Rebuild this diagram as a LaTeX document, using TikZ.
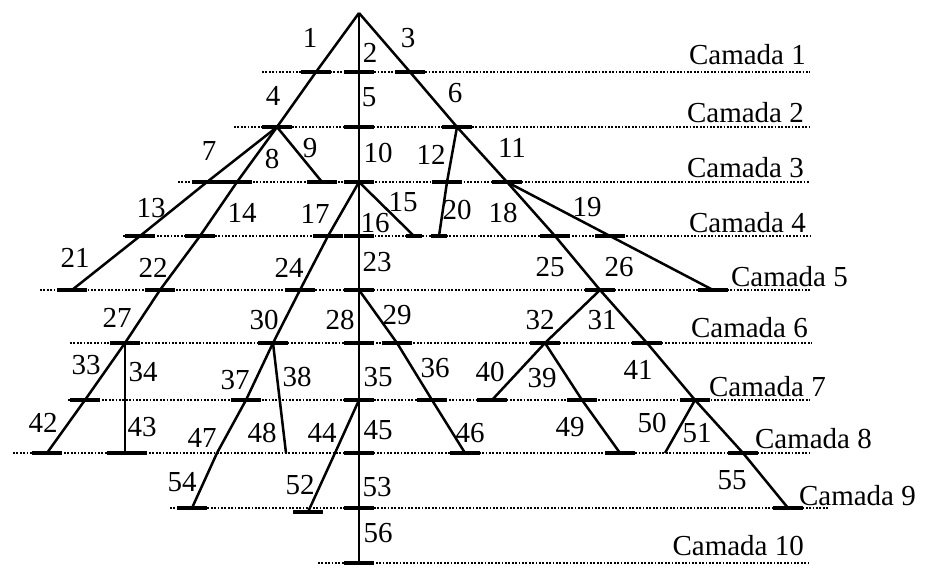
\documentclass[tikz,border=0pt]{standalone}
\usepackage{fontspec}
\setmainfont{Liberation Serif}
\usetikzlibrary{calc}
\colorlet{colLinha}{black}
\tikzset{
  ramo/.style={draw=colLinha, line width=2.5pt, line join=round},
  marca/.style={draw=colLinha, line width=3.2pt},
  camadaLinha/.style={draw=colLinha, line width=2.4pt, dash pattern=on 1.8pt off 1.6pt},
  rotulo/.style={font=\fontsize{29}{31}\selectfont, inner sep=0pt, text=colLinha},
  rotuloCamada/.style={rotulo, anchor=east},
}

\begin{document}
\begin{tikzpicture}[x=1pt, y=-1pt]
    \useasboundingbox (0,0) rectangle (939,568);
    % camadas
    \foreach \n/\xa/\xb/\y in {1/262/810/72, 2/234/810/127, 3/178/810/182, 4/123/810/236,
        5/40/810/290, 6/70/812/343, 7/68/810/400, 8/13/810/453, 9/170/828/508, 10/318/810/563}
      \draw[camadaLinha] (\xa,\y) -- (\xb,\y);
    \foreach \n/\x/\y in {1/806/55, 2/804/113, 3/804/168, 4/806/223, 5/848/277,
        6/808/328, 7/826/387, 8/872/439, 9/916/496, 10/804/546}
      \node[rotuloCamada] (cam\n) at (\x,\y) {Camada \n};
    % pontos da arvore
    \coordinate (a) at (359,13);
    \foreach \n/\y in {1/72, 2/127, 3/182, 4/236, 5/290, 6/343, 7/400, 8/453, 9/508, 10/563}
      \coordinate (v\n) at (359,\y);
    \coordinate (p1) at (316,72);   \coordinate (n4) at (277,127);
    \coordinate (p3) at (410,72);   \coordinate (n6) at (457,127);
    \coordinate (n11) at (507,182);
    \coordinate (p7) at (207,182);  \coordinate (p13) at (140,236);
    \coordinate (e21) at (72,290);
    \coordinate (p8) at (237,182);  \coordinate (p14) at (200,236);
    \coordinate (p22) at (160,290); \coordinate (n27) at (125,343);
    \coordinate (p33) at (85,400);  \coordinate (e42) at (47,453);
    \coordinate (p34) at (125,400); \coordinate (e43) at (125,453);
    \coordinate (e9) at (322,182);
    \coordinate (e15) at (414,236);
    \coordinate (p17) at (328,236); \coordinate (p24) at (300,290);
    \coordinate (n30) at (273,343);
    \coordinate (p37) at (246,400); \coordinate (p47) at (217,453);
    \coordinate (e54) at (192,508);
    \coordinate (e38) at (286,453);
    \coordinate (p12) at (447,182); \coordinate (e20) at (439,236);
    \coordinate (p18) at (555,236); \coordinate (n25) at (600,290);
    \coordinate (p19) at (610,236); \coordinate (e26) at (713,290);
    \coordinate (p31) at (647,343); \coordinate (n41) at (695,400);
    \coordinate (p51) at (743,453); \coordinate (e55) at (788,508);
    \coordinate (n32) at (545,343); \coordinate (e40) at (492,400);
    \coordinate (p39) at (582,400); \coordinate (e49) at (620,453);
    \coordinate (e50) at (665,453);
    \coordinate (p29) at (397,343); \coordinate (p36) at (432,400);
    \coordinate (e46) at (465,453);
    \coordinate (p44) at (335,453); \coordinate (e52) at (308,512);
    % marcas nas camadas
    \foreach \c in {p1, v1, p3, n4, v2, n6, p7, p8, e9, v3, p12, n11,
        p13, p14, p17, v4, p18, p19, e21, p22, p24, v5, n25, e26,
        n27, n30, v6, p29, n32, p31, p33, p37, v7, p36, e40, p39, n41,
        e42, v8, e46, e49, p51, e54, e52, v9, e55, v10}
      \draw[marca] ([xshift=-15pt]\c) -- ([xshift=15pt]\c);
    \foreach \c in {e15, e20}
      \draw[marca] ([xshift=-8pt]\c) -- ([xshift=8pt]\c);
    \draw[marca] ([xshift=-18pt]e43) -- ([xshift=22pt]e43);
    % ramos
    \draw[ramo] (a) -- (v1) -- (v2) -- (v3) -- (v4) -- (v5) -- (v6) -- (v7) -- (v8) -- (v9) -- (v10);
    \draw[ramo] (a) -- (p1) -- (n4);
    \draw[ramo] (a) -- (p3) -- (n6) -- (n11);
    \draw[ramo] (n4) -- (p7) -- (p13) -- (e21);
    \draw[ramo] (n4) -- (p8) -- (p14) -- (p22) -- (n27);
    \draw[ramo] (n27) -- (p33) -- (e42);
    \draw[ramo] (n27) -- (p34) -- (e43);
    \draw[ramo] (n4) -- (e9);
    \draw[ramo] (v3) -- (e15);
    \draw[ramo] (v3) -- (p17) -- (p24) -- (n30);
    \draw[ramo] (n30) -- (p37) -- (p47) -- (e54);
    \draw[ramo] (n30) -- (e38);
    \draw[ramo] (n6) -- (p12) -- (e20);
    \draw[ramo] (n11) -- (p18) -- (n25);
    \draw[ramo] (n11) -- (p19) -- (e26);
    \draw[ramo] (n25) -- (p31) -- (n41) -- (p51) -- (e55);
    \draw[ramo] (n25) -- (n32) -- (e40);
    \draw[ramo] (n32) -- (p39) -- (e49);
    \draw[ramo] (n41) -- (e50);
    \draw[ramo] (v5) -- (p29) -- (p36) -- (e46);
    \draw[ramo] (v7) -- (p44) -- (e52);
    % numeros dos segmentos
    \foreach \n/\x/\y in {1/310/38, 2/370/53, 3/408/38, 4/273/96, 5/369/97, 6/455/93,
        7/209/151, 8/272/159, 9/310/148, 10/378/153, 11/512/148, 12/431/155,
        13/151/208, 14/242/213, 15/403/202, 16/375/223, 17/315/214, 18/503/213,
        19/587/207, 20/457/210, 21/75/258, 22/153/268, 23/377/262, 24/289/268,
        25/550/267, 26/619/267, 27/117/318, 28/340/320, 29/397/315, 30/264/320,
        31/602/320, 32/540/320, 33/86/365, 34/143/372, 35/378/377, 36/435/368,
        37/235/380, 38/297/377, 39/542/378, 40/490/372, 41/638/370, 42/43/423,
        43/142/427, 44/322/433, 45/378/430, 46/470/433, 47/202/438, 48/262/433,
        49/570/427, 50/652/423, 51/697/433, 52/300/485, 53/377/487, 54/182/482,
        55/732/480, 56/378/533}
      \node[rotulo] (r\n) at (\x,\y) {\n};
  \end{tikzpicture}
\end{document}
